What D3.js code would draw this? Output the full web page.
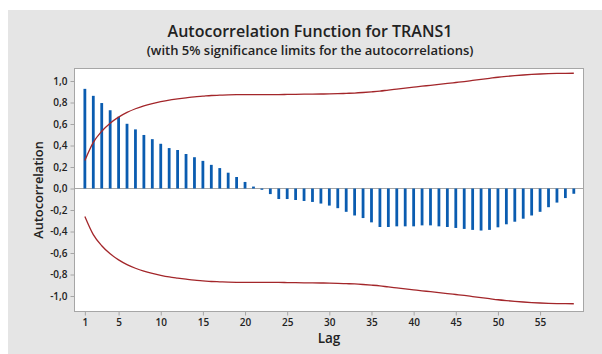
<!DOCTYPE html>
<html>
<head>
<meta charset="utf-8">
<script src="https://cdn.jsdelivr.net/npm/d3@7"></script>
<style>
  html, body { margin: 0; padding: 0; background: #ffffff; }
  svg { display: block; }
  text { font-family: "Open Sans", "Noto Sans", sans-serif; fill: #222; }
</style>
</head>
<body>
<svg id="chart" width="602" height="354"></svg>
<script>
// ---- data ----
const lags = d3.range(1, 60);
const acf = [
  0.927, 0.862, 0.795, 0.728, 0.667, 0.602, 0.550, 0.498, 0.459, 0.416,
  0.376, 0.358, 0.321, 0.291, 0.257, 0.220, 0.190, 0.147, 0.107, 0.061,
  0.018, -0.012, -0.052, -0.098, -0.098, -0.107, -0.116, -0.125, -0.140, -0.159,
  -0.183, -0.217, -0.251, -0.275, -0.315, -0.358, -0.358, -0.352, -0.352, -0.352,
  -0.343, -0.343, -0.352, -0.358, -0.367, -0.376, -0.385, -0.391, -0.385, -0.361,
  -0.333, -0.309, -0.281, -0.251, -0.217, -0.174, -0.131, -0.089, -0.049
];
const upperLimit = [
  0.260, 0.429, 0.533, 0.608, 0.664, 0.708, 0.742, 0.769, 0.790, 0.808,
  0.823, 0.834, 0.844, 0.853, 0.859, 0.865, 0.868, 0.871, 0.873, 0.874,
  0.874, 0.874, 0.874, 0.874, 0.875, 0.876, 0.877, 0.878, 0.879, 0.880,
  0.882, 0.885, 0.888, 0.893, 0.899, 0.906, 0.916, 0.925, 0.934, 0.943,
  0.952, 0.960, 0.969, 0.977, 0.986, 0.995, 1.005, 1.015, 1.025, 1.035,
  1.043, 1.050, 1.056, 1.061, 1.065, 1.068, 1.070, 1.071, 1.072
];
const lowerLimit = [
  -0.260, -0.429, -0.533, -0.608, -0.664, -0.708, -0.742, -0.769, -0.790, -0.808,
  -0.823, -0.834, -0.844, -0.853, -0.859, -0.865, -0.868, -0.871, -0.873, -0.874,
  -0.874, -0.874, -0.874, -0.874, -0.875, -0.876, -0.877, -0.878, -0.879, -0.880,
  -0.882, -0.885, -0.888, -0.893, -0.899, -0.906, -0.916, -0.925, -0.934, -0.943,
  -0.952, -0.960, -0.969, -0.977, -0.986, -0.995, -1.005, -1.015, -1.025, -1.035,
  -1.043, -1.050, -1.056, -1.061, -1.065, -1.068, -1.070, -1.071, -1.072
];
const xTicks = [1, 5, 10, 15, 20, 25, 30, 35, 40, 45, 50, 55];
const yTicks = [1.0, 0.8, 0.6, 0.4, 0.2, 0.0, -0.2, -0.4, -0.6, -0.8, -1.0];
const title = "Autocorrelation Function for TRANS1";
const subtitle = "(with 5% significance limits for the autocorrelations)";
const xLabel = "Lag";
const yLabel = "Autocorrelation";

// ---- layout ----
const svg = d3.select("#chart");
const frame = { left: 74.5, right: 583.5, top: 68.5, bottom: 311.5 };

svg.append("rect").attr("x", 8).attr("y", 10).attr("width", 594).attr("height", 344)
  .attr("fill", "#e5e5e5");

const x = d3.scaleLinear().domain([-0.23, 60.15]).range([frame.left, frame.right]);
const y = d3.scaleLinear().domain([1.0, -1.0]).range([81, 296]);

svg.append("rect")
  .attr("x", frame.left).attr("y", frame.top)
  .attr("width", frame.right - frame.left).attr("height", frame.bottom - frame.top)
  .attr("fill", "#ffffff").attr("stroke", "#a6a6a6").attr("stroke-width", 1);

const fmt = v => d3.format(".1f")(v).replace(".", ",").replace("−", "-");

// axes
const yAxis = svg.append("g").attr("transform", `translate(${frame.left},0)`)
  .call(d3.axisLeft(y).tickValues(yTicks).tickSize(4).tickPadding(3).tickFormat(fmt));
const xAxis = svg.append("g").attr("transform", `translate(0,${frame.bottom})`)
  .call(d3.axisBottom(x).tickValues(xTicks).tickSize(4).tickPadding(3));
[yAxis, xAxis].forEach(g => {
  g.select(".domain").remove();
  g.selectAll(".tick line").attr("stroke", "#a6a6a6");
  g.selectAll(".tick text").attr("fill", "#222").style("font-size", "10px").style("font-weight", 600)
    .style("font-family", '"Open Sans", sans-serif');
});

// zero reference line
svg.append("line")
  .attr("x1", frame.left).attr("x2", frame.right)
  .attr("y1", y(0)).attr("y2", y(0))
  .attr("stroke", "#a6a6a6").attr("stroke-width", 1);

// bars
svg.append("g").selectAll("line").data(lags).join("line")
  .attr("x1", (d) => x(d)).attr("x2", (d) => x(d))
  .attr("y1", y(0)).attr("y2", (d, i) => y(acf[i]))
  .attr("stroke", "#0a5cb0").attr("stroke-width", 2.8);

// significance limits
const line = d3.line().x((d) => x(d[0])).y((d) => y(d[1])).curve(d3.curveMonotoneX);
svg.append("path").datum(lags.map((l, i) => [l, upperLimit[i]]))
  .attr("d", line).attr("fill", "none").attr("stroke", "#a3262a").attr("stroke-width", 1.3);
svg.append("path").datum(lags.map((l, i) => [l, lowerLimit[i]]))
  .attr("d", line).attr("fill", "none").attr("stroke", "#a3262a").attr("stroke-width", 1.3);

// titles
svg.append("text").attr("x", 310).attr("y", 37).attr("text-anchor", "middle")
  .style("font-size", "16px").style("font-weight", 600).text(title);
svg.append("text").attr("x", 310).attr("y", 55).attr("text-anchor", "middle")
  .style("font-size", "13px").style("font-weight", 600).text(subtitle);
svg.append("text").attr("x", 329).attr("y", 343).attr("text-anchor", "middle")
  .style("font-size", "13.5px").style("font-weight", 600).text(xLabel);
svg.append("text").attr("transform", "translate(43,190) rotate(-90)").attr("text-anchor", "middle")
  .style("font-size", "12.8px").style("font-weight", 600).text(yLabel);
</script>
</body>
</html>
